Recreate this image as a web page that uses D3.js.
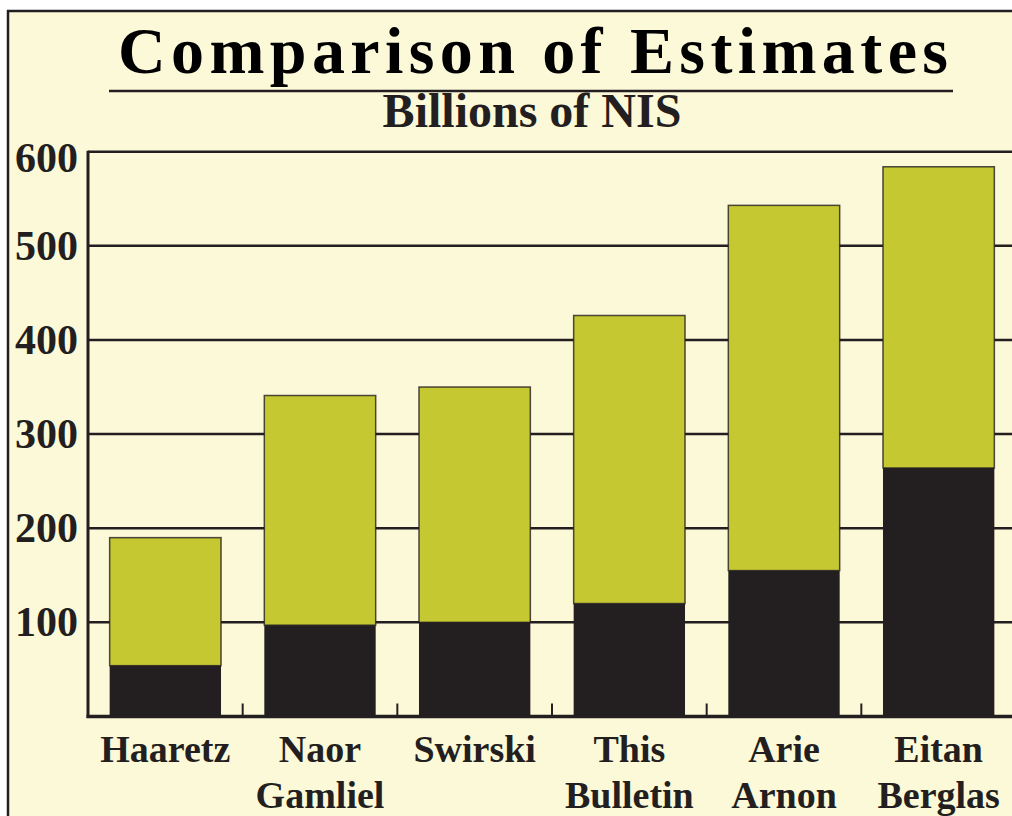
<!DOCTYPE html>
<html>
<head>
<meta charset="utf-8">
<script src="https://cdn.jsdelivr.net/npm/d3@7.9.0/dist/d3.min.js"></script>
<style>
  html, body { margin: 0; padding: 0; background: #fff; }
  svg { display: block; }
  text { font-family: "Liberation Serif", "Times New Roman", serif; font-weight: bold; fill: #231f20; }
</style>
</head>
<body>
<svg id="chart" width="1012" height="816"></svg>
<script>
const categories = [['Haaretz'], ['Naor', 'Gamliel'], ['Swirski'], ['This', 'Bulletin'], ['Arie', 'Arnon'], ['Eitan', 'Berglas']];
const lowerValues = [54, 97, 100, 120, 155, 264];
const totalValues = [190, 341, 350, 426, 543, 584];
const yTicks = [100, 200, 300, 400, 500, 600];

const dark = '#231f20';
const olive = '#c5c830';
const bg = '#fcf9d9';

const svg = d3.select('#chart');

// panel background and frame
svg.append('rect').attr('x', 8).attr('y', 10).attr('width', 1010).attr('height', 810).attr('fill', bg);
svg.append('line').attr('x1', 7).attr('x2', 1012).attr('y1', 11).attr('y2', 11).attr('stroke', dark).attr('stroke-width', 2.5);
svg.append('line').attr('x1', 8).attr('x2', 8).attr('y1', 10).attr('y2', 816).attr('stroke', dark).attr('stroke-width', 2.5);

// titles
svg.append('text')
  .attr('x', 118).attr('y', 73)
  .attr('textLength', 830).attr('lengthAdjust', 'spacing')
  .style('font-size', '66px')
  .style('fill', '#000')
  .text('Comparison of Estimates');
svg.append('line').attr('x1', 109).attr('x2', 953).attr('y1', 91).attr('y2', 91).attr('stroke', dark).attr('stroke-width', 2.5);
svg.append('text')
  .attr('x', 532).attr('y', 127)
  .attr('text-anchor', 'middle')
  .style('font-size', '48px')
  .text('Billions of NIS');

// scales
const x = d3.scaleBand()
  .domain(categories.map(d => d.join(' ')))
  .range([88, 1016])
  .paddingInner(0.28)
  .paddingOuter(0.14);
const y = d3.scaleLinear().domain([0, 600]).range([716.5, 151.7]);

// gridlines
svg.append('g')
  .selectAll('line')
  .data(yTicks)
  .join('line')
  .attr('x1', 88).attr('x2', 1012)
  .attr('y1', d => y(d)).attr('y2', d => y(d))
  .attr('stroke', dark).attr('stroke-width', 2.5);

// y tick labels (top one sits a little lower)
svg.append('g')
  .selectAll('text')
  .data(yTicks)
  .join('text')
  .attr('x', 78)
  .attr('y', d => y(d) + (d === 600 ? 20 : 14))
  .attr('text-anchor', 'end')
  .style('font-size', '42px')
  .text(d => d);

// bars
const bars = svg.append('g');
categories.forEach((c, i) => {
  const key = c.join(' ');
  bars.append('rect')
    .attr('x', x(key)).attr('width', x.bandwidth())
    .attr('y', y(totalValues[i])).attr('height', y(lowerValues[i]) - y(totalValues[i]))
    .attr('fill', olive).attr('stroke', dark).attr('stroke-opacity', 0.8).attr('stroke-width', 1.5);
  bars.append('rect')
    .attr('x', x(key)).attr('width', x.bandwidth())
    .attr('y', y(lowerValues[i])).attr('height', y(0) - y(lowerValues[i]))
    .attr('fill', dark);
});

// axes lines
svg.append('line').attr('x1', 88).attr('x2', 88).attr('y1', y(600) - 1).attr('y2', y(0) + 1.5).attr('stroke', dark).attr('stroke-width', 3);
svg.append('line').attr('x1', 86.5).attr('x2', 1012).attr('y1', y(0)).attr('y2', y(0)).attr('stroke', dark).attr('stroke-width', 3.5);

// ticks between bars
const step = x.step();
const tickXs = categories.slice(1).map(c => x(c.join(' ')) - (step - x.bandwidth()) / 2);
svg.append('g')
  .selectAll('line')
  .data(tickXs)
  .join('line')
  .attr('x1', d => d).attr('x2', d => d)
  .attr('y1', y(0)).attr('y2', y(0) - 13)
  .attr('stroke', dark).attr('stroke-width', 2);

// category labels
const labels = svg.append('g');
categories.forEach(c => {
  const cx = x(c.join(' ')) + x.bandwidth() / 2;
  const t = labels.append('text')
    .attr('text-anchor', 'middle')
    .style('font-size', '38px');
  c.forEach((line, j) => {
    t.append('tspan').attr('x', cx).attr('y', 762 + j * 46).text(line);
  });
});
</script>
</body>
</html>
